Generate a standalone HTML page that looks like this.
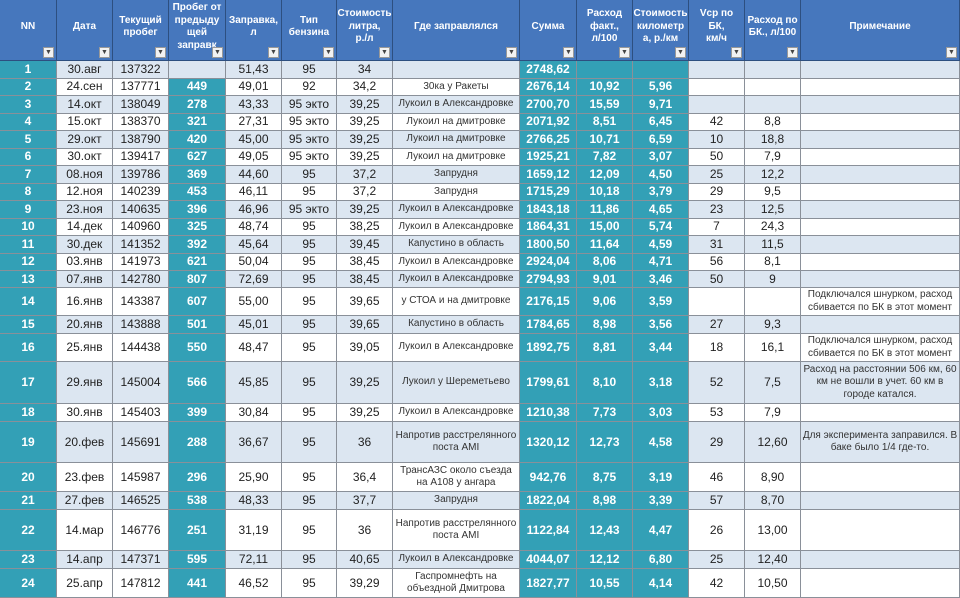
<!DOCTYPE html>
<html><head><meta charset="utf-8">
<style>
body{margin:0;width:960px;height:598px;overflow:hidden;background:#fff;font-family:"Liberation Sans","DejaVu Sans",sans-serif}
#t{position:relative;width:960px;height:598px}
.c{position:absolute;box-sizing:border-box;border-right:1px solid #8a9099;border-bottom:1px solid #8a9099;display:flex;align-items:center;justify-content:center;text-align:center;font-size:12px;color:#222;line-height:1.25;overflow:hidden}
.h{background:#4677bd;color:#fff;font-weight:bold;font-size:10px;border-color:#2d4f80;padding:0 2px 6px 2px}
.teal{background:#33a0b6;color:#fff;font-weight:bold}
.lt{background:#dce6f1}
.wh{background:#fff}
.note{font-size:10px;color:#333}
.dd{position:absolute;right:2px;bottom:2px;width:11px;height:11px;background:#f2f2f2;border:1px solid #999;box-sizing:border-box;font-size:7px;color:#444;line-height:10px;text-align:center}
</style></head><body>
<div id="t"></div>
<script>
const colX=[0,57,113,169,226,282,337,393,520,577,633,689,745,801,960];
const headers=["NN","Дата","Текущий пробег","Пробег от предыдущей заправки","Заправка, л","Тип бензина","Стоимость литра, р./л","Где заправлялся","Сумма","Расход факт., л/100","Стоимость километра, р./км","Vcp по БК, км/ч","Расход по БК., л/100","Примечание"];
const headerShown=["NN","Дата","Текущий<br>пробег","Пробег от<br>предыду<br>щей<br>заправк","Заправка,<br>л","Тип<br>бензина","Стоимость<br>литра,<br>р./л","Где заправлялся","Сумма","Расход<br>факт.,<br>л/100","Стоимость<br>километр<br>а, р./км","Vcp по БК,<br>км/ч","Расход по<br>БК., л/100","Примечание"];
const tealCols=[0,3,8,9,10];
const rowTops=[61,78.5,96,113.5,131,148.5,166,183.5,201,218.5,236,253.5,271,288,316,334,362,404,422,463,492,510,551,569,598];
const dates=["30.авг","24.сен","14.окт","15.окт","29.окт","30.окт","08.ноя","12.ноя","23.ноя","14.дек","30.дек","03.янв","07.янв","16.янв","20.янв","25.янв","29.янв","30.янв","20.фев","23.фев","27.фев","14.мар","14.апр","25.апр"];
const odometer=["137322","137771","138049","138370","138790","139417","139786","140239","140635","140960","141352","141973","142780","143387","143888","144438","145004","145403","145691","145987","146525","146776","147371","147812"];
const distance=["","449","278","321","420","627","369","453","396","325","392","621","807","607","501","550","566","399","288","296","538","251","595","441"];
const liters=["51,43","49,01","43,33","27,31","45,00","49,05","44,60","46,11","46,96","48,74","45,64","50,04","72,69","55,00","45,01","48,47","45,85","30,84","36,67","25,90","48,33","31,19","72,11","46,52"];
const fuel=["95","92","95 экто","95 экто","95 экто","95 экто","95","95","95 экто","95","95","95","95","95","95","95","95","95","95","95","95","95","95","95"];
const price=["34","34,2","39,25","39,25","39,25","39,25","37,2","37,2","39,25","38,25","39,45","38,45","38,45","39,65","39,65","39,05","39,25","39,25","36","36,4","37,7","36","40,65","39,29"];
const station=["","30ка у Ракеты","Лукоил в Александровке","Лукоил на дмитровке","Лукоил на дмитровке","Лукоил на дмитровке","Запрудня","Запрудня","Лукоил в Александровке","Лукоил в Александровке","Капустино в область","Лукоил в Александровке","Лукоил в Александровке","у СТОА и на дмитровке","Капустино в область","Лукоил в Александровке","Лукоил у Шереметьево","Лукоил в Александровке","Напротив расстрелянного<br>поста АМI","ТрансАЗС около съезда<br>на А108 у ангара","Запрудня","Напротив расстрелянного<br>поста АМI","Лукоил в Александровке","Гаспромнефть на<br>объездной Дмитрова"];
const total=["2748,62","2676,14","2700,70","2071,92","2766,25","1925,21","1659,12","1715,29","1843,18","1864,31","1800,50","2924,04","2794,93","2176,15","1784,65","1892,75","1799,61","1210,38","1320,12","942,76","1822,04","1122,84","4044,07","1827,77"];
const consumption=["","10,92","15,59","8,51","10,71","7,82","12,09","10,18","11,86","15,00","11,64","8,06","9,01","9,06","8,98","8,81","8,10","7,73","12,73","8,75","8,98","12,43","12,12","10,55"];
const costKm=["","5,96","9,71","6,45","6,59","3,07","4,50","3,79","4,65","5,74","4,59","4,71","3,46","3,59","3,56","3,44","3,18","3,03","4,58","3,19","3,39","4,47","6,80","4,14"];
const speed=["","","","42","10","50","25","29","23","7","31","56","50","","27","18","52","53","29","46","57","26","25","42"];
const bkCons=["","","","8,8","18,8","7,9","12,2","9,5","12,5","24,3","11,5","8,1","9","","9,3","16,1","7,5","7,9","12,60","8,90","8,70","13,00","12,40","10,50"];
const notes=["","","","","","","","","","","","","","Подключался шнурком, расход сбивается по БК в этот момент","","Подключался шнурком, расход сбивается по БК в этот момент","Расход на расстоянии 506 км, 60 км не вошли в учет. 60 км в городе катался.","","Для эксперимента заправился. В баке было 1/4 где-то.","","","","",""];
const colNames=["nn","date","odometer","distance","liters","fuel-type","price-per-liter","station","total-sum","consumption","cost-per-km","avg-speed","bk-consumption","note"];
const T=document.getElementById('t');
function cell(x,y,w,h,cls,html){const d=document.createElement('div');d.className='c '+cls;d.style.left=x+'px';d.style.top=y+'px';d.style.width=w+'px';d.style.height=h+'px';d.innerHTML=html;T.appendChild(d);return d;}
for(let c=0;c<14;c++){
  const d=cell(colX[c],0,colX[c+1]-colX[c],61,'h',headerShown[c]);
  
  
  const b=document.createElement('div');b.className='dd';b.textContent='▼';
  
  
  d.appendChild(b);
}
const cols=[null,dates,odometer,distance,liters,fuel,price,station,total,consumption,costKm,speed,bkCons,notes];
for(let r=0;r<24;r++){
  const y=rowTops[r],h=rowTops[r+1]-rowTops[r];
  const bg=(r%2===0)?'lt':'wh';
  for(let c=0;c<14;c++){
    const v=c===0?String(r+1):cols[c][r];
    let cls=bg;
    if(tealCols.includes(c)&&!(r===0&&c===3))cls='teal';
    if(c===13)cls+=' note';
    if(c===7)cls+=' note';
    const d=cell(colX[c],y,colX[c+1]-colX[c],h,cls,v);
    
    
  }
}
</script>
</body></html>
